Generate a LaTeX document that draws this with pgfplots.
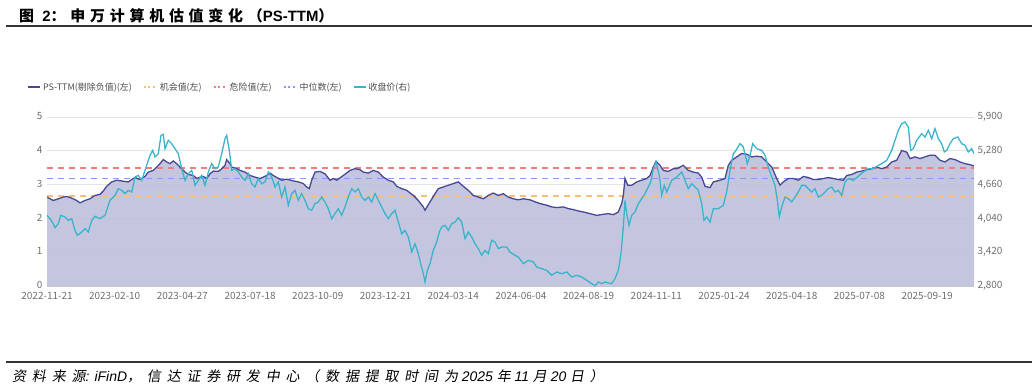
\documentclass[border=0pt]{standalone}
\usepackage{fontspec}
\usepackage{pgfplots}
\usepackage{pgfplotstable}
\pgfplotsset{compat=1.18}
\setmainfont{Noto Sans CJK SC}
\newfontfamily\titlefont{Noto Sans CJK SC}[LetterSpace=32]
\newfontfamily\titlelat{Liberation Sans}
\newfontfamily\srcfont{Noto Sans CJK SC}[FakeSlant=0.18, LetterSpace=42]
\newfontfamily\srclat{Liberation Sans}
\definecolor{psline}{RGB}{72,72,148}
\definecolor{psfill}{RGB}{190,192,219}
\definecolor{cyanline}{RGB}{58,180,204}
\definecolor{redd}{RGB}{244,124,124}
\definecolor{blued}{RGB}{140,150,246}
\definecolor{orad}{RGB}{248,190,122}
\definecolor{labelgray}{RGB}{110,110,110}
\definecolor{gridgray}{RGB}{228,228,232}

\pgfplotstableread{
x y
47 2.63
53.3 2.53
58.3 2.58
63.3 2.63
66.7 2.65
71.7 2.60
76.7 2.53
80 2.46
85 2.53
90 2.58
95 2.68
100 2.71
103.3 2.81
106.7 2.95
111.7 3.08
116.7 3.13
123.3 3.10
128.3 3.08
131.7 3.15
135 3.21
140 3.15
145 3.24
148.3 3.37
153.3 3.42
156.7 3.52
160 3.62
163.3 3.74
166.7 3.67
170 3.62
173.3 3.70
176.7 3.62
180 3.52
181.7 3.47
185 3.37
188.3 3.30
193.3 3.27
196.7 3.18
200 3.22
203.3 3.24
206.7 3.18
210 3.32
213.3 3.40
218.3 3.39
221.7 3.47
225 3.57
226.7 3.74
230 3.62
231.7 3.52
236.7 3.47
240 3.42
245 3.37
250 3.27
255 3.22
260 3.18
263.3 3.22
266.7 3.27
270 3.34
273.3 3.27
276.7 3.21
281.7 3.13
286.7 3.16
293.3 3.11
298.3 3.08
303.3 3.03
306.7 2.93
309.3 2.88
311.7 3.13
315 3.37
320 3.39
325 3.32
330 3.13
333.3 3.18
336.7 3.13
343.3 3.27
350 3.42
355 3.47
360 3.44
363.3 3.37
368.3 3.34
373.3 3.42
378.3 3.37
383.3 3.22
388.3 3.13
393.3 3.08
396.7 2.95
401.7 2.88
406.7 2.83
413.3 2.68
418.3 2.53
423.3 2.34
425 2.24
430 2.49
435 2.73
438.3 2.88
443.3 2.93
448.3 2.98
453.3 3.03
458.3 3.08
463.3 2.95
468.3 2.83
473.3 2.68
478.3 2.63
483.3 2.58
488.3 2.68
493.3 2.75
498.3 2.68
503.3 2.73
508.3 2.63
513.3 2.58
518.3 2.55
523.3 2.58
530 2.55
535 2.49
540 2.44
546.7 2.39
551.7 2.34
556.7 2.32
563.3 2.34
568.3 2.29
573.3 2.26
578.3 2.22
583.3 2.19
590 2.14
596.7 2.09
603.3 2.12
608.3 2.14
613.3 2.11
618.3 2.19
621.7 2.44
623.3 2.68
625 3.18
627.7 2.98
631.7 2.98
636.7 3.08
641.7 3.13
646.7 3.18
650 3.27
653.3 3.52
656 3.69
660 3.57
663.3 3.42
668.3 3.39
673.3 3.47
676.7 3.47
683.3 3.57
688.3 3.42
693.3 3.37
698.3 3.34
701.7 3.22
705 2.95
710 2.91
713.3 3.08
720 3.13
725 3.18
728.3 3.57
731.7 3.72
736.7 3.82
741.7 3.92
746.7 3.90
751.7 3.82
756.7 3.84
761.7 3.82
766.7 3.67
771.7 3.52
776.7 3.18
780 2.98
783.3 3.08
788.3 3.18
793.3 3.18
798.3 3.13
803.3 3.24
808.3 3.21
813.3 3.15
818.3 3.15
823.3 3.18
828.3 3.21
833.3 3.18
838.3 3.15
843.3 3.13
846.7 3.27
851.7 3.30
856.7 3.37
861.7 3.40
866.7 3.44
871.7 3.47
876.7 3.52
881.7 3.47
886.7 3.52
891.7 3.67
896.7 3.72
901.7 4.01
906.7 3.96
910 3.77
915 3.82
920 3.77
925 3.82
930 3.87
935 3.87
940 3.72
945 3.67
950 3.77
955 3.74
960 3.67
965 3.62
970 3.59
974 3.55
}\psdata

\pgfplotstableread{
x y
47 4096
50 4035
53.3 3943
55 3870
58.3 3943
60.7 4096
65 4066
68.3 4004
71.7 4035
75 3821
77.3 3729
81.7 3790
85 3852
88.3 3790
91.7 4004
95 4078
100 4035
105 4096
110 4371
115 4463
118.3 4585
121.7 4555
125 4494
128.3 4555
131.7 4524
135 4799
138.3 4830
141.7 4738
145 4922
150 5197
152.7 5288
155 5166
158.3 5227
161 5564
163.3 5582
165 5319
168.3 5472
171.7 5411
175 5319
178.3 5227
181.7 4952
185 4738
188.3 4860
191.7 4922
195 4646
198.3 4738
201.7 4830
205 4646
208.3 4891
211.7 5044
215 4952
218.3 4983
221.7 5227
225 5502
226.7 5564
229.3 5288
231.7 4922
235 4952
238.3 4891
241.7 4799
245 4738
248.3 4860
251.7 4677
255 4616
258.3 4769
261.7 4677
265 4708
268.3 4891
271.7 4799
275 4616
278.3 4708
281.7 4432
285 4616
288.3 4280
291.7 4494
295 4555
298.3 4371
301.7 4494
305 4371
308.3 4218
311.7 4188
315 4310
318.3 4341
321.7 4432
325 4341
328.3 4218
331.7 4035
335 4127
338.3 4218
341.7 4096
345 4249
348.3 4432
351.7 4585
355 4524
358.3 4585
361.7 4432
365 4371
368.3 4432
371.7 4341
375 4494
378.3 4371
381.7 4249
385 4127
388.3 4035
391.7 4127
395 4188
398.3 3974
401.7 3760
405 3821
408.3 3699
411.7 3424
415 3576
418.3 3393
420.7 3210
423.3 3026
425 2873
427.3 3087
430 3210
433.3 3454
436.7 3607
439.3 3790
441.7 3882
445 3913
448.3 3821
451.7 3943
455 3974
458.3 4053
461.7 3974
465 3668
468.3 3790
471.7 3699
475 3576
478.3 3485
481.7 3362
485 3454
488.3 3393
491.7 3638
495 3607
498.3 3485
501.7 3515
506.7 3515
510 3424
515 3362
518.3 3332
523.3 3210
528.3 3271
533.3 3240
536.7 3148
541.7 3118
546.7 3087
551.7 2996
556.7 3057
561.7 3026
566.7 3057
571.7 2965
576.7 2996
581.7 2965
586.7 2904
591.7 2843
595 2805
598.3 2873
601.7 2843
605 2873
608.3 2855
611.7 2843
615 2935
618.3 3087
621 3393
623.3 3882
625 4371
626.7 4127
629 3913
631.7 4096
635 4157
638.3 4310
641.7 4402
645 4494
648.3 4616
650.7 4708
653.3 4952
656 5074
659.3 4830
661.7 4463
664.3 4646
666.7 4524
671.7 4738
676.7 4799
681.7 4891
685 4738
688.3 4585
691.7 4677
695 4616
698.3 4555
701.7 4310
704 4004
706.7 4066
710 3974
713.3 4218
718.3 4218
723.3 4280
726.7 4524
730 4922
733.3 5227
736 5288
740 5411
743.3 5350
747.3 5044
750 5197
752.7 5411
756.7 5319
761.7 5288
765 5197
768.3 4983
771.7 4799
775 4646
777.3 4371
779.3 4066
781.7 4249
785 4432
788.3 4402
791.7 4341
795 4432
798.3 4524
801.7 4646
805 4646
808.3 4585
811.7 4524
815 4585
818.3 4432
821.7 4463
825 4524
828.3 4585
831.7 4616
835 4524
838.3 4555
841.7 4463
845 4708
848.3 4769
853.3 4738
858.3 4812
863.3 4891
868.3 4952
873.3 4952
878.3 5013
881.7 5044
886.7 5105
891.7 5288
895 5472
898.3 5655
901.7 5778
905 5808
908.3 5716
910.7 5288
913.3 5319
916.7 5472
921.7 5594
925 5533
928.3 5655
931.7 5502
935 5686
938.3 5502
941.7 5411
944.3 5258
946.7 5288
950 5411
953.3 5502
957.7 5533
961.7 5411
965 5380
968.3 5258
971.7 5319
974 5227
}\closedata

\begin{document}
\begin{tikzpicture}[x=1bp,y=1bp]
\useasboundingbox (0,0) rectangle (1032,389);
\node[anchor=west, inner sep=0pt, font=\fontsize{15}{15}\selectfont\bfseries] at (19,373.5) {\titlefont 图\ {\titlelat 2}：申万计算机估值变化（{\titlelat PS-TTM}）};
\draw[line width=1.3bp, black!80] (6,363) -- (1032,363);
\draw[line width=1.3bp, black!80] (6,27) -- (1032,27);
\node[anchor=west, inner sep=0pt, font=\fontsize{14}{14}\selectfont] at (12,13) {\srcfont 资料来源{\srclat\itshape : iFinD}，信达证券研发中心（数据提取时间为{\srclat\itshape\ 2025 }年{\srclat\itshape\ 11 }月{\srclat\itshape\ 20 }日）};

\begin{axis}[at={(47bp,103bp)}, anchor=south west, scale only axis,
  width=927bp, height=169bp,
  xmin=47, xmax=974, ymin=0, ymax=5,
  axis x line*=bottom, axis y line*=left,
  y axis line style={draw=none},
  x axis line style={draw=gridgray!70!gray, -},
  ytick={0,1,2,3,4,5},
  xtick={47,114.7,182.4,250.1,317.8,385.5,453.2,520.9,588.6,656.3,724.0,791.7,859.4,927.1},
  xticklabels={2022-11-21,2023-02-10,2023-04-27,2023-07-18,2023-10-09,2023-12-21,2024-03-14,2024-06-04,2024-08-19,2024-11-11,2025-01-24,2025-04-18,2025-07-08,2025-09-19},
  major tick length=0pt,
  ymajorgrids, grid style={draw=gridgray, line width=0.7bp},
  tick label style={font=\fontsize{10}{10}\selectfont, text=labelgray},
  /pgf/number format/assume math mode=true,
  yticklabel style={xshift=-1bp, yshift=1bp},
  xticklabel style={yshift=-2.5bp},
  legend style={at={(-0.0216,1.1775)}, anchor=west, draw=none, fill=none,
    font=\fontsize{9}{9}\selectfont, text=black!70, inner sep=0pt,
    /tikz/every even column/.append style={column sep=9bp}},
  legend columns=-1, legend cell align=left,
]
\addplot[draw=none, fill=psfill, fill opacity=0.9, forget plot] table {\psdata} \closedcycle;
\addplot[redd, dash pattern=on 6bp off 5bp, line width=1.2bp, forget plot] coordinates {(47,3.49) (974,3.49)};
\addplot[blued, dash pattern=on 6bp off 5bp, line width=1.2bp, forget plot] coordinates {(47,3.18) (974,3.18)};
\addplot[orad, dash pattern=on 6bp off 5bp, line width=1.2bp, forget plot] coordinates {(47,2.66) (974,2.66)};
\addplot[psline, line width=1.3bp, forget plot] table {\psdata};
\addlegendimage{legend image code/.code={\draw[psline, line width=2bp] (0bp,0bp) -- (12bp,0bp);}}
\addlegendentry{PS-TTM(剔除负值)(左)}
\addlegendimage{legend image code/.code={\draw[orad, line width=2bp, dash pattern=on 2bp off 2.5bp] (0bp,0bp) -- (13bp,0bp);}}
\addlegendentry{机会值(左)}
\addlegendimage{legend image code/.code={\draw[redd, line width=2bp, dash pattern=on 2bp off 2.5bp] (0bp,0bp) -- (13bp,0bp);}}
\addlegendentry{危险值(左)}
\addlegendimage{legend image code/.code={\draw[blued, line width=2bp, dash pattern=on 2bp off 2.5bp] (0bp,0bp) -- (13bp,0bp);}}
\addlegendentry{中位数(左)}
\addlegendimage{legend image code/.code={\draw[cyanline, line width=2bp] (0bp,0bp) -- (12bp,0bp);}}
\addlegendentry{收盘价(右)}
\node[anchor=west, inner sep=0pt, font=\fontsize{9.5}{9.5}\selectfont, text=labelgray] at (axis description cs:-0.0108,1.083) {PS-TTM(剔除负值)};
\end{axis}

\begin{axis}[at={(47bp,103bp)}, anchor=south west, scale only axis,
  width=927bp, height=169bp,
  xmin=47, xmax=974, ymin=2800, ymax=5900,
  axis x line=none, axis y line*=right,
  y axis line style={draw=none},
  ytick={2800,3420,4040,4660,5280,5900},
  major tick length=0pt,
  tick label style={font=\fontsize{10}{10}\selectfont, text=labelgray},
  /pgf/number format/assume math mode=true,
  yticklabel style={/pgf/number format/.cd, 1000 sep={,}},
]
\addplot[cyanline, line width=1.3bp] table {\closedata};
\node[anchor=west, inner sep=0pt, font=\fontsize{9.5}{9.5}\selectfont, text=labelgray] at (axis description cs:1.002,1.083) {收盘价};
\end{axis}
\end{tikzpicture}
\end{document}
